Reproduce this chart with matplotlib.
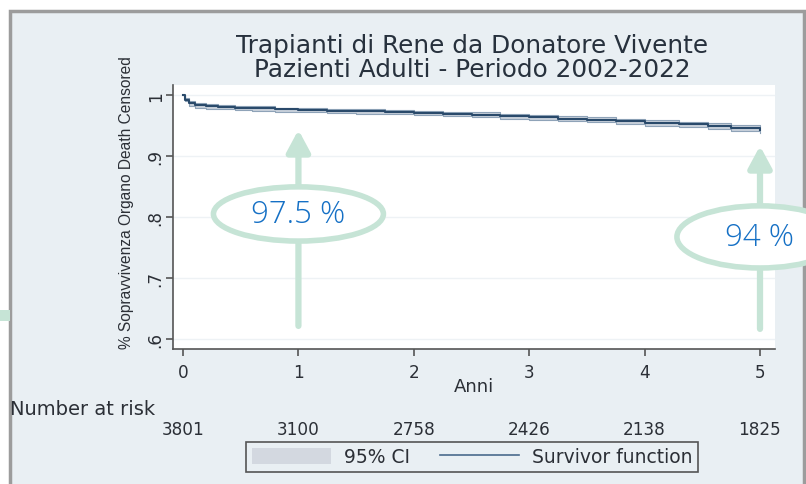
import matplotlib.pyplot as plt
from matplotlib.patches import Rectangle, Ellipse, Patch
from matplotlib.lines import Line2D
import matplotlib.transforms as mtransforms

# Kaplan-Meier estimate (step function)
years = [0, 0.02, 0.05, 0.1, 0.2, 0.3, 0.45, 0.6, 0.8, 1.0, 1.25, 1.5, 1.75, 2.0, 2.25, 2.5,
         2.75, 3.0, 3.25, 3.5, 3.75, 4.0, 4.3, 4.55, 4.75, 5.0]
surv = [1.0, 0.993, 0.987, 0.984, 0.982, 0.981, 0.980, 0.979, 0.977, 0.976, 0.975, 0.974,
        0.973, 0.971, 0.970, 0.968, 0.966, 0.964, 0.962, 0.960, 0.958, 0.955, 0.953, 0.949,
        0.946, 0.943]
ci_low = [1.0, 0.990, 0.983, 0.980, 0.978, 0.977, 0.976, 0.975, 0.973, 0.972, 0.971, 0.970,
          0.969, 0.967, 0.966, 0.964, 0.962, 0.960, 0.958, 0.956, 0.953, 0.950, 0.948, 0.944,
          0.941, 0.938]
ci_high = [1.0, 0.995, 0.990, 0.987, 0.985, 0.984, 0.983, 0.982, 0.980, 0.979, 0.978, 0.977,
           0.976, 0.975, 0.973, 0.972, 0.970, 0.968, 0.966, 0.964, 0.962, 0.959, 0.957, 0.954,
           0.951, 0.948]

risk_years = [0, 1, 2, 3, 4, 5]
at_risk = [3801, 3100, 2758, 2426, 2138, 1825]
yticks = [0.6, 0.7, 0.8, 0.9, 1.0]
ytick_labels = ['.6', '.7', '.8', '.9', '1']

# highlighted values
callouts = [(1, '97.5 %'), (5, '94 %')]

plt.rcParams['font.family'] = ['DejaVu Sans']
W, H = 806, 485
fig = plt.figure(figsize=(W / 100, H / 100), dpi=100)
fig.patch.set_facecolor('white')

panel = '#e9eff3'
green = '#c6e4d6'
ink = '#2b2f36'

# Stata graph region
fig.patches.append(Rectangle((10 / W, -0.05), 794 / W, 1 - 12 / H + 0.05, transform=fig.transFigure,
                             facecolor=panel, edgecolor='#9c9c9c', lw=2.5, zorder=-10))
fig.patches.append(Rectangle((0, 1 - 322 / H), 10 / W, 11 / H, transform=fig.transFigure,
                             facecolor=green, edgecolor='none', zorder=-5))

ax = fig.add_axes([173 / W, 1 - 350 / H, 602 / W, 264 / H])
ax.set_facecolor('white')
ax.set_xlim(-0.087, 5.13)
ax.set_ylim(0.5836, 1.017)

ax.fill_between(years, ci_low, ci_high, step='post', color='#c9d1db', lw=0, zorder=2)
ax.step(years, ci_low, where='post', color='#8fa3b8', lw=0.8, zorder=3)
ax.step(years, ci_high, where='post', color='#8fa3b8', lw=0.8, zorder=3)
ax.step(years, surv, where='post', color='#2a4a6b', lw=1.5, zorder=4)

ax.set_yticks(yticks)
ax.set_yticklabels(ytick_labels, rotation=90, va='center')
ax.set_xticks(risk_years)
ax.grid(axis='y', color='#eef2f5', lw=1)
ax.set_axisbelow(True)
for s in ['top', 'right']:
    ax.spines[s].set_visible(False)
for s in ['left', 'bottom']:
    ax.spines[s].set_color('#555555')
    ax.spines[s].set_linewidth(1.2)
ax.tick_params(length=5, width=1.2, color='#555555', labelsize=12.2, labelcolor=ink)
ax.tick_params(axis='x', pad=5)
ax.tick_params(axis='y', pad=1)

ax.set_xlabel('Anni', fontsize=13, color=ink, labelpad=-3)

fig.text(472 / W, 1 - 46 / H, 'Trapianti di Rene da Donatore Vivente', ha='center', va='center',
         fontsize=17.8, color='#27313d')
fig.text(472 / W, 1 - 70 / H, 'Pazienti Adulti - Periodo 2002-2022', ha='center', va='center',
         fontsize=17.8, color='#27313d')
fig.text(126 / W, 1 - 203 / H, '% Sopravvivenza Organo Death Censored', rotation=90,
         ha='center', va='center', fontsize=11.2, color=ink, family=['Liberation Sans', 'DejaVu Sans'])

# number at risk table
fig.text(10 / W, 1 - 410 / H, 'Number at risk', ha='left', va='center', fontsize=14, color=ink)
trans = mtransforms.blended_transform_factory(ax.transData, fig.transFigure)
for x, n in zip(risk_years, at_risk):
    ax.text(x, 1 - 430 / H, str(n), transform=trans, ha='center', va='center',
            fontsize=12.2, color=ink)

handles = [Patch(facecolor='#d3d8e0', edgecolor='none'),
           Line2D([], [], color='#4a6a8c', lw=1.2)]
leg = fig.legend(handles, ['95% CI', 'Survivor function'], loc='center',
                 bbox_to_anchor=(472 / W, 1 - 458 / H), ncol=2, fontsize=13.5,
                 frameon=True, fancybox=False, edgecolor='#555555', facecolor=panel,
                 framealpha=1, handlelength=4.2, handleheight=0.9, handletextpad=0.7,
                 columnspacing=1.6, borderpad=0.3)
leg.get_frame().set_linewidth(1.2)
for t in leg.get_texts():
    t.set_color(ink)

# callouts: green arrows with ellipse labels
arrow_geom = {1: (0.6215, 0.9433, 0.8053, 1.473, 0.089), 5: (0.6166, 0.917, 0.7676, 1.44, 0.102)}
for x, label in callouts:
    base, tip, cy, ew, eh = arrow_geom[x]
    ax.annotate('', xy=(x, tip), xytext=(x, base),
                arrowprops=dict(arrowstyle='-|>,head_length=0.65,head_width=0.35', lw=4.5,
                                color=green, shrinkA=0, shrinkB=0, mutation_scale=20),
                zorder=5, annotation_clip=False)
    ax.add_patch(Ellipse((x, cy), ew, eh, facecolor='white', edgecolor=green, lw=4,
                         zorder=6, clip_on=False))
    ax.text(x, cy, label, ha='center', va='center', fontsize=22.5, color='#1570c5',
            family=['Open Sans', 'DejaVu Sans'], fontweight='light', zorder=7, clip_on=False)

fig.savefig('out.png', dpi=100)
